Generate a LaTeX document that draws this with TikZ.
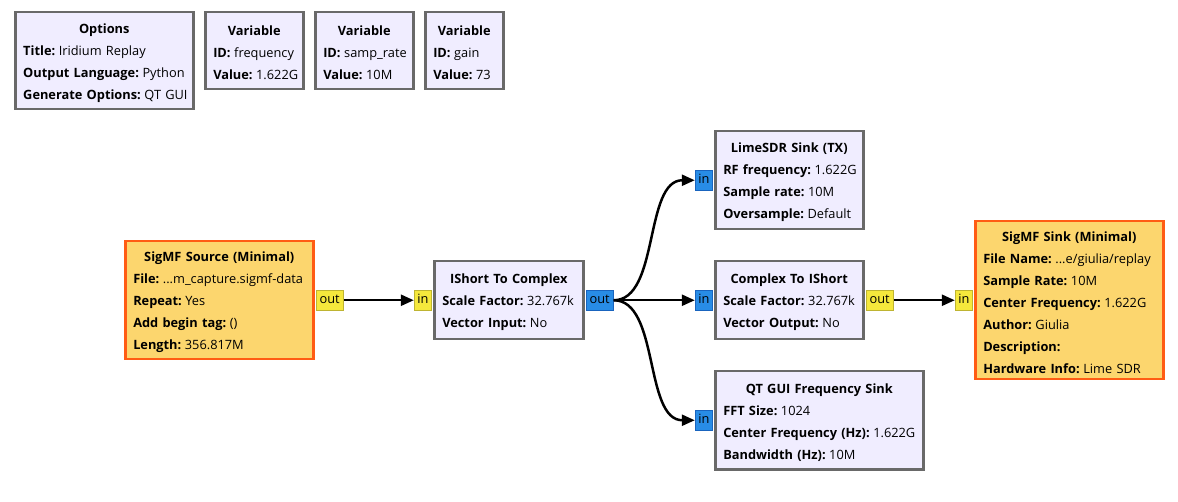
\documentclass[tikz,border=0pt]{standalone}
\usepackage{fontspec}
\setmainfont{Open Sans}
\usetikzlibrary{arrows.meta, positioning}

\definecolor{blkfill}{RGB}{240,237,255}
\definecolor{blkdraw}{RGB}{105,105,105}
\definecolor{sigfill}{RGB}{252,214,110}
\definecolor{sigdraw}{RGB}{255,92,20}
\definecolor{yelfill}{RGB}{245,232,60}
\definecolor{yeldraw}{RGB}{190,180,50}
\definecolor{bluefill}{RGB}{40,140,230}
\definecolor{bluedraw}{RGB}{25,100,190}

% one "key: value" line of a block
\newcommand{\prm}[2]{\mbox{\textbf{#1:}\hspace{0.28em}#2}}

\begin{document}
\begin{tikzpicture}
        [x=1pt, y=-1pt,
        block/.style ={rectangle, draw=blkdraw, line width=2.5pt, fill=blkfill,
        anchor=north west, inner xsep=8pt, inner ysep=0pt,
        execute at begin node=\rule{0pt}{14pt},
        font=\fontsize{12.8}{22}\selectfont},
        sigmf/.style ={block, draw=sigdraw, fill=sigfill},
        port/.style ={rectangle, line width=1.2pt, minimum height=20pt,
        inner xsep=1pt, inner ysep=0pt, text height=9.5pt, text depth=3pt,
        font=\fontsize{12.8}{14}\selectfont},
        yport/.style ={port, draw=yeldraw, fill=yelfill},
        bport/.style ={port, draw=bluedraw, fill=bluefill},
        line/.style ={draw, line width=2.5pt, -{Triangle[length=13pt,width=11pt]}}]
        \useasboundingbox (0,0) rectangle (1178,502);

        % options and variables
        \node [block, text width=162pt, minimum height=97pt] (options) at (14,11)
            {\centering\textbf{Options}\par\raggedright
            \prm{Title}{Iridium Replay}\\
            \prm{Output Language}{Python}\\
            \prm{Generate Options}{QT GUI}};
        \node [block, text width=82pt, minimum height=77pt] (freq) at (204,11)
            {\centering\textbf{Variable}\par\raggedright
            \prm{ID}{frequency}\\
            \prm{Value}{1.622G}};
        \node [block, text width=82pt, minimum height=77pt] (samprate) at (314,11)
            {\centering\textbf{Variable}\par\raggedright
            \prm{ID}{samp\_rate}\\
            \prm{Value}{10M}};
        \node [block, text width=62pt, minimum height=77pt] (gain) at (424,11)
            {\centering\textbf{Variable}\par\raggedright
            \prm{ID}{gain}\\
            \prm{Value}{73}};

        % source
        \node [sigmf, text width=172pt, minimum height=118pt] (source) at (124,240)
            {\centering\textbf{SigMF Source (Minimal)}\par\raggedright
            \prm{File}{...m\_capture.sigmf-data}\\
            \prm{Repeat}{Yes}\\
            \prm{Add begin tag}{()}\\
            \prm{Length}{356.817M}};
        \node [yport, minimum width=27pt, right=1pt of source] (source-out) {out};

        % ishort to complex
        \node [block, text width=133pt, minimum height=78pt] (toc) at (433,260)
            {\centering\textbf{IShort To Complex}\par\raggedright
            \prm{Scale Factor}{32.767k}\\
            \prm{Vector Input}{No}};
        \node [yport, minimum width=17pt, left=1pt of toc] (toc-in) {in};
        \node [bport, minimum width=27pt, right=1pt of toc] (toc-out) {out};

        % lime sink
        \node [block, text width=132pt, minimum height=98pt] (lime) at (714,130)
            {\centering\textbf{LimeSDR Sink (TX)}\par\raggedright
            \prm{RF frequency}{1.622G}\\
            \prm{Sample rate}{10M}\\
            \prm{Oversample}{Default}};
        \node [bport, minimum width=17pt, left=1pt of lime] (lime-in) {in};

        % complex to ishort
        \node [block, text width=132pt, minimum height=78pt] (tos) at (714,260)
            {\centering\textbf{Complex To IShort}\par\raggedright
            \prm{Scale Factor}{32.767k}\\
            \prm{Vector Output}{No}};
        \node [bport, minimum width=17pt, left=1pt of tos] (tos-in) {in};
        \node [yport, minimum width=27pt, right=1pt of tos] (tos-out) {out};

        % frequency sink
        \node [block, text width=192pt, minimum height=98pt] (fft) at (714,370)
            {\centering\textbf{QT GUI Frequency Sink}\par\raggedright
            \prm{FFT Size}{1024}\\
            \prm{Center Frequency (Hz)}{1.622G}\\
            \prm{Bandwidth (Hz)}{10M}};
        \node [bport, minimum width=17pt, left=1pt of fft] (fft-in) {in};

        % file sink
        \node [sigmf, text width=172pt, minimum height=158pt] (sink) at (974,220)
            {\centering\textbf{SigMF Sink (Minimal)}\par\raggedright
            \prm{File Name}{...e/giulia/replay}\\
            \prm{Sample Rate}{10M}\\
            \prm{Center Frequency}{1.622G}\\
            \prm{Author}{Giulia}\\
            \prm{Description}{}\\
            \prm{Hardware Info}{Lime SDR}};
        \node [yport, minimum width=17pt, left=1pt of sink] (sink-in) {in};

        \begin{scope}[every path/.style=line]
            \path (source-out) -- (toc-in);
            \path (toc-out) .. controls +(60,0) and +(-60,0) .. (lime-in);
            \path (toc-out) -- (tos-in);
            \path (toc-out) .. controls +(60,0) and +(-60,0) .. (fft-in);
            \path (tos-out) -- (sink-in);
        \end{scope}
    \end{tikzpicture}
\end{document}
